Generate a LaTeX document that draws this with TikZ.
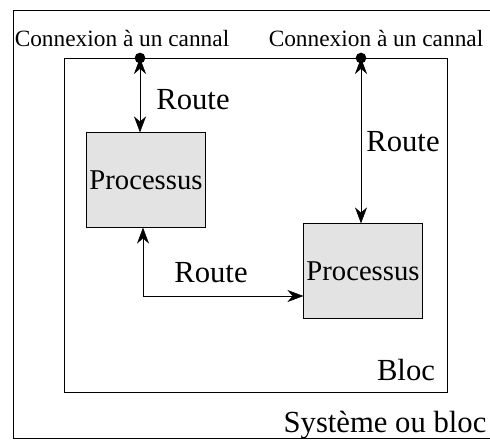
\documentclass[tikz,border=0pt]{standalone}
\usepackage{fontspec}
\setmainfont{Liberation Serif}
\usetikzlibrary{arrows.meta,calc}
\tikzset{
  proc/.style={draw,thin,fill=gray!22,minimum width=89pt,minimum height=71pt,inner sep=0pt,font=\fontsize{21.5}{24}\selectfont},
  lbl/.style={inner sep=0pt,font=\fontsize{23}{26}\selectfont},
  conn/.style={inner sep=0pt,font=\fontsize{17.5}{20}\selectfont},
  route/.style={thin,{Stealth[length=12pt,width=9pt]}-{Stealth[length=12pt,width=9pt]}},
}
\begin{document}
\begin{tikzpicture}[x=0.75pt,y=-0.75pt]
  \useasboundingbox (0,0) rectangle (490,440);
  % system and block frames
  \draw[thin] (13,10) rectangle (490,438);
  \draw[thin] (64,58) rectangle (447,392);
  % channel connections
  \node[circle,fill,inner sep=0pt,minimum size=8pt] (c1) at (140,58) {};
  \node[circle,fill,inner sep=0pt,minimum size=8pt] (c2) at (361,58) {};
  \node[conn] (t1) at (122,38) {Connexion à un cannal};
  \node[conn] (t2) at (376,38) {Connexion à un cannal};
  % processes
  \node[proc] (p1) at (146,180) {Processus};
  \node[proc] (p2) at (363,271) {Processus};
  % routes
  \draw[route] (c1.center) -- (c1 |- p1.north);
  \node[lbl] (r1) at (193,100) {Route};
  \draw[route] (c2.center) -- (c2 |- p2.north);
  \node[lbl] (r2) at (403,142) {Route};
  \coordinate (k) at (143,296);
  \draw[route] (p1.south -| k) -- (k) -- (p2.west |- k);
  \node[lbl] (r3) at (211,273) {Route};
  \node[lbl] (bloc) at (406,370) {Bloc};
  \node[lbl] (sys) at (385,425) {Système ou bloc};
\end{tikzpicture}
\end{document}
